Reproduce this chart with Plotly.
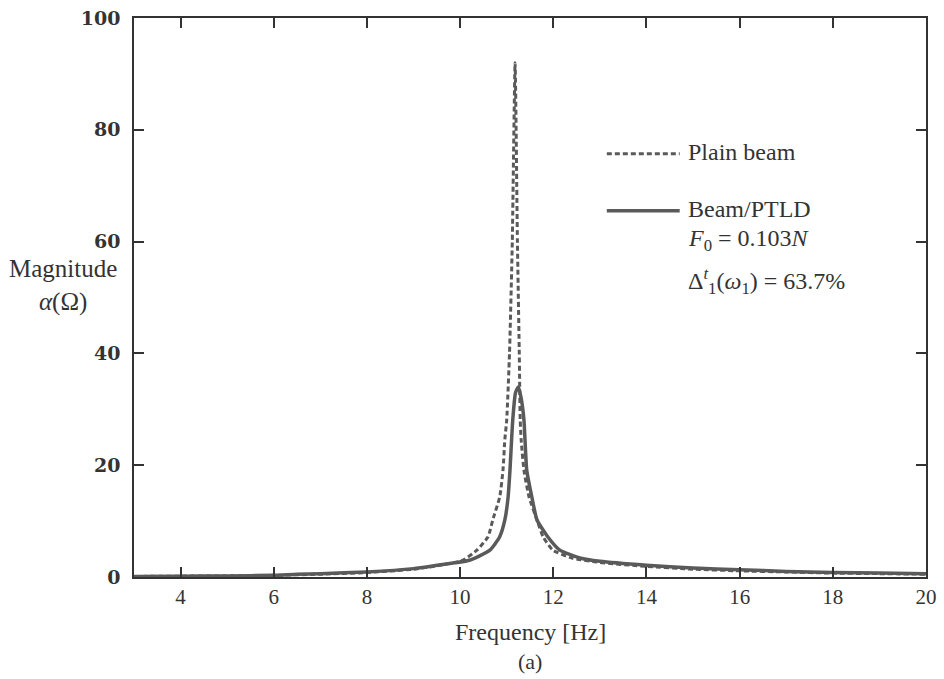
import plotly.graph_objects as go

# Plain beam (dashed)
plain_freq = [3, 4, 5, 6, 7, 8, 9, 9.5, 10.06, 10.36, 10.6, 10.7, 10.85, 10.92, 10.96, 11.0,
              11.06, 11.12, 11.18, 11.23, 11.27, 11.29, 11.31, 11.37, 11.48, 11.65, 11.78,
              11.99, 12.4, 13.0, 14, 15, 16, 17, 18, 19, 20]
plain_mag = [0.1, 0.15, 0.2, 0.3, 0.5, 0.8, 1.4, 2.0, 3.0, 4.8, 7.2, 10.2, 14.3, 19.1, 24.6, 28.1,
             40, 60, 92, 60, 40, 28.1, 24.6, 19.1, 14.3, 10.2, 7.2,
             4.8, 3.4, 2.6, 1.9, 1.4, 1.1, 0.9, 0.7, 0.6, 0.5]

# Beam/PTLD (solid)
ptld_freq = [3, 4, 5, 6, 6.5, 7, 8, 9, 9.5, 10.2, 10.64, 10.85, 10.96, 11.03, 11.07, 11.13,
             11.19, 11.25, 11.31, 11.37, 11.43, 11.54, 11.65, 11.88, 12.14, 12.57, 13.0,
             14, 15, 16, 17, 18, 19, 20]
ptld_mag = [0.1, 0.15, 0.2, 0.3, 0.5, 0.6, 0.9, 1.5, 2.1, 3.0, 4.8, 7.2, 10.2, 14.3, 19.1, 28.1,
            33, 34, 32, 28.1, 19.1, 14.3, 10.2, 7.2, 4.8, 3.4, 2.8,
            2.1, 1.6, 1.3, 1.0, 0.8, 0.7, 0.6]

x_ticks = [4, 6, 8, 10, 12, 14, 16, 18, 20]
y_ticks = [0, 20, 40, 60, 80, 100]

FONT = "Liberation Serif"
TXT = "#333333"
LINE = "#5a5a5a"

fig = go.Figure()
fig.add_trace(go.Scatter(x=plain_freq, y=plain_mag, mode="lines", name="Plain beam",
                         line=dict(color=LINE, width=3, dash="5px,3px", shape="spline",
                                   smoothing=0.5)))
fig.add_trace(go.Scatter(x=ptld_freq, y=ptld_mag, mode="lines", name="Beam/PTLD",
                         line=dict(color=LINE, width=3.5, shape="spline", smoothing=0.5)))

axis_common = dict(showgrid=False, zeroline=False, showline=True, linecolor=TXT,
                   linewidth=1.5, mirror="ticks", ticks="inside", ticklen=10,
                   tickcolor=TXT, tickwidth=1.5, automargin=False)

fig.update_xaxes(range=[3, 20], tickvals=x_ticks, ticktext=[str(v) for v in x_ticks],
                 tickfont=dict(family=FONT, size=21, color=TXT), **axis_common)
fig.update_yaxes(range=[0, 100], tickvals=y_ticks, ticktext=[str(v) for v in y_ticks],
                 tickfont=dict(family="DejaVu Serif", size=19, color=TXT, weight="bold"),
                 ticklabelstandoff=8, **axis_common)

# Legend samples (custom, as in the original)
fig.add_shape(type="line", xref="paper", yref="paper", x0=0.597, x1=0.689, y0=0.757, y1=0.757,
              line=dict(color=LINE, width=3, dash="5px,3px"))
fig.add_shape(type="line", xref="paper", yref="paper", x0=0.597, x1=0.689, y0=0.655, y1=0.655,
              line=dict(color=LINE, width=3.5))

txt = dict(xref="paper", yref="paper", xanchor="left", yanchor="middle", showarrow=False,
           font=dict(family=FONT, size=24, color=TXT))
fig.add_annotation(x=0.697, y=0.760, text="Plain beam", **txt)
fig.add_annotation(x=0.697, y=0.658, text="Beam/PTLD", **txt)
fig.add_annotation(x=0.697, y=0.603, text="<i>F</i><sub>0</sub> = 0.103<i>N</i>", **txt)
fig.add_annotation(x=0.697, y=0.530,
                   text="Δ<sup><i>t</i></sup><sub>1</sub>(<i>ω</i><sub>1</sub>) = 63.7%", **txt)

# Y-axis title (horizontal, two lines)
fig.add_annotation(xref="paper", yref="paper", x=-0.0896, y=0.522, xanchor="center",
                   yanchor="middle", showarrow=False, align="center",
                   text="Magnitude<br><i>α</i>(Ω)",
                   font=dict(family=FONT, size=25, color=TXT))

# X-axis title
fig.add_annotation(xref="paper", yref="paper", x=0.5, y=-0.098, xanchor="center",
                   yanchor="middle", showarrow=False, text="Frequency [Hz]",
                   font=dict(family=FONT, size=24, color=TXT))

# Caption
fig.add_annotation(xref="paper", yref="paper", x=0.5, y=-0.152, xanchor="center",
                   yanchor="middle", showarrow=False, text="(a)",
                   font=dict(family=FONT, size=22, color=TXT))

fig.update_layout(width=944, height=679, showlegend=False,
                  plot_bgcolor="white", paper_bgcolor="white",
                  margin=dict(l=134, r=18, t=18, b=102, autoexpand=False))

fig.write_html("out.html", config={"displayModeBar": False},
               post_script="document.body.style.margin='0';document.body.style.padding='0';")
